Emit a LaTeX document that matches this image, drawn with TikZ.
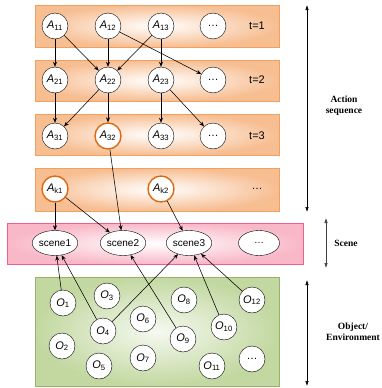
\documentclass[tikz,border=0pt]{standalone}
\usepackage{fontspec}
\setmainfont{Liberation Sans}
\newfontfamily\labelfont{Liberation Serif}
\usetikzlibrary{arrows.meta,shapes.geometric}

\definecolor{boxorange}{HTML}{F7BE92}
\definecolor{lineorange}{HTML}{F0A060}
\definecolor{nodeorange}{HTML}{E06A12}
\definecolor{boxpink}{HTML}{F9B8C8}
\definecolor{linepink}{HTML}{F0608A}
\definecolor{boxgreen}{HTML}{C2D8A0}
\definecolor{linegreen}{HTML}{94B468}

\newcommand{\Asub}[1]{{\itshape A}\textsubscript{#1}}
\newcommand{\Osub}[1]{{\itshape O}\textsubscript{#1}}

\begin{document}
\begin{tikzpicture}[
		x=1pt, y=-1pt,
		font=\fontsize{11}{12}\selectfont,
		actbox/.style = {draw=lineorange, line width=0.8pt, inner color=white, outer color=boxorange},
		scenebox/.style = {draw=linepink, line width=1pt, inner color=white, outer color=boxpink},
		objbox/.style = {draw=linegreen, line width=0.8pt, inner color=white!85!boxgreen, outer color=boxgreen},
		act/.style = {circle, draw, fill=white, minimum size=26pt, inner sep=0pt},
		hot/.style = {act, draw=nodeorange, line width=1.4pt},
		obj/.style = {circle, draw, fill=white, minimum size=26pt, inner sep=0pt},
		scn/.style = {ellipse, draw, fill=white, minimum width=41pt, minimum height=25pt, inner sep=0pt, font=\fontsize{10}{11}\selectfont},
		link/.style = {-{Stealth[length=5pt,width=4pt]}, line width=0.55pt},
		span/.style = {{Latex[length=5pt,width=3.5pt]}-{Latex[length=5pt,width=3.5pt]}, line width=0.55pt},
		side/.style = {font=\labelfont\bfseries\fontsize{9.5}{11}\selectfont, align=center}
	]
	\useasboundingbox (0,0) rectangle (381,388);

	% boxes
	\draw[actbox] (35,5) rectangle (279,47);
	\draw[actbox] (35,60) rectangle (279,101);
	\draw[actbox] (35,114) rectangle (279,155);
	\draw[actbox] (35,168) rectangle (279,211);
	\draw[scenebox] (7,223) rectangle (303,264);
	\draw[objbox] (35,277) rectangle (279,386);

	% action sequence
	\node[act] (a11) at (55,26) {\Asub{11}};
	\node[act] (a12) at (108,26) {\Asub{12}};
	\node[act] (a13) at (161,26) {\Asub{13}};
	\node[act] (a1x) at (213,26) {\dots};
	\node (t1) at (257,26) {t=1};

	\node[act] (a21) at (55,80) {\Asub{21}};
	\node[act] (a22) at (108,80) {\Asub{22}};
	\node[act] (a23) at (161,80) {\Asub{23}};
	\node[act] (a2x) at (213,80) {\dots};
	\node (t2) at (257,80) {t=2};

	\node[act] (a31) at (55,136) {\Asub{31}};
	\node[hot] (a32) at (108,136) {\Asub{32}};
	\node[act] (a33) at (161,136) {\Asub{33}};
	\node[act] (a3x) at (213,136) {\dots};
	\node (t3) at (257,136) {t=3};

	\node[hot] (ak1) at (55,189) {\Asub{k1}};
	\node[hot] (ak2) at (161,189) {\Asub{k2}};
	\node (akx) at (257,189) {\dots};

	% scenes
	\node[scn] (s1) at (55,243) {scene1};
	\node[scn] (s2) at (123,243) {scene2};
	\node[scn] (s3) at (189,243) {scene3};
	\node[scn] (sx) at (259,243) {\dots};

	% objects
	\node[obj] (o1) at (63,303) {\Osub{1}};
	\node[obj] (o2) at (62,346) {\Osub{2}};
	\node[obj] (o3) at (107,296) {\Osub{3}};
	\node[obj] (o4) at (103,331) {\Osub{4}};
	\node[obj] (o5) at (99,366) {\Osub{5}};
	\node[obj] (o6) at (143,319) {\Osub{6}};
	\node[obj] (o7) at (143,358) {\Osub{7}};
	\node[obj] (o8) at (184,300) {\Osub{8}};
	\node[obj] (o9) at (183,339) {\Osub{9}};
	\node[obj] (o10) at (224,327) {\Osub{10}};
	\node[obj] (o11) at (212,366) {\Osub{11}};
	\node[obj] (o12) at (252,300) {\Osub{12}};
	\node[obj] (ox) at (252,359) {\dots};

	% links
	\draw[link] (a11) -- (a21);
	\draw[link] (a11) -- (a22);
	\draw[link] (a12) -- (a22);
	\draw[link] (a12) -- (a2x);
	\draw[link] (a13) -- (a22);
	\draw[link] (a13) -- (a23);
	\draw[link] (a21) -- (a31);
	\draw[link] (a22) -- (a31);
	\draw[link] (a22) -- (a32);
	\draw[link] (a23) -- (a33);
	\draw[link] (a23) -- (a3x);
	\draw[link] (a32) -- (s2);
	\draw[link] (ak1) -- (s1);
	\draw[link] (ak1) -- (s2);
	\draw[link] (ak2) -- (s3);
	\draw[link] (o1) -- (s1);
	\draw[link] (o4) -- (s1);
	\draw[link] (o4) -- (s3);
	\draw[link] (o9) -- (s2);
	\draw[link] (o10) -- (s3);
	\draw[link] (o12) -- (s3);

	% side labels
	\coordinate (acttop) at (307,5);
	\coordinate (actbot) at (307,212);
	\coordinate (scntop) at (326,218);
	\coordinate (scnbot) at (326,268);
	\coordinate (objtop) at (307,280);
	\coordinate (objbot) at (307,386);
	\draw[span] (acttop) -- (actbot);
	\draw[span, black!75] (scntop) -- (scnbot);
	\draw[span] (objtop) -- (objbot);
	\node[side] (actlbl) at (344,106) {Action\\sequence};
	\node[side] (scnlbl) at (346,243) {Scene};
	\node[side] (objlbl) at (353,332) {Object/\\Environment};
\end{tikzpicture}
\end{document}
